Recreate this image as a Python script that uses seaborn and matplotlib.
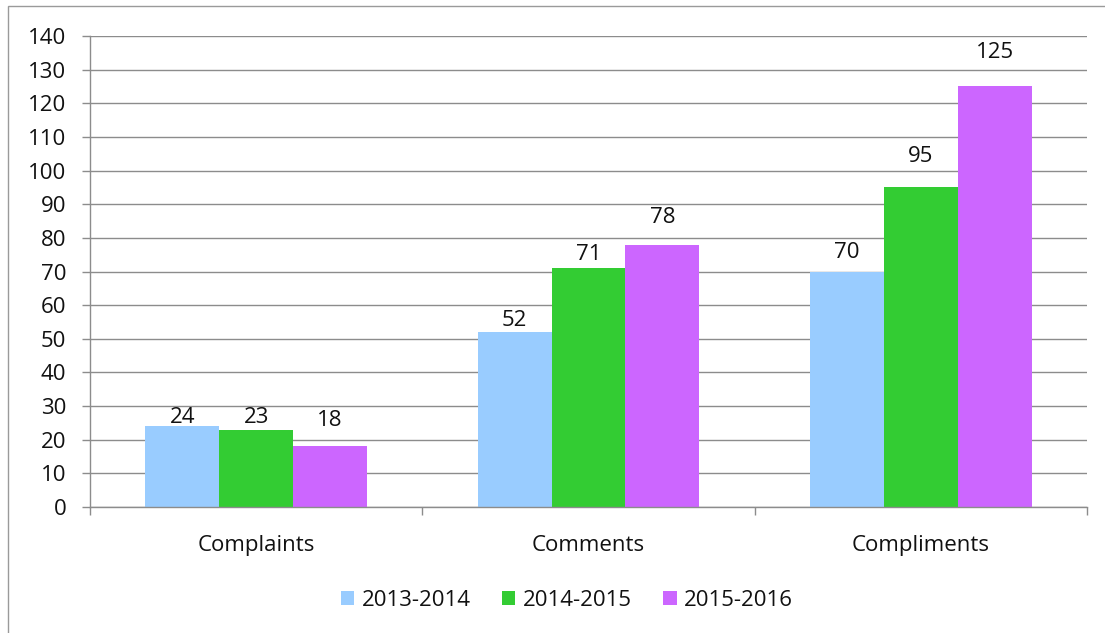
import matplotlib
matplotlib.use("Agg")
import matplotlib.pyplot as plt
import seaborn as sns
import pandas as pd
from matplotlib.patches import Rectangle

categories = ["Complaints", "Comments", "Compliments"]
years = ["2013-2014", "2014-2015", "2015-2016"]
v_2013 = [24, 52, 70]
v_2014 = [23, 71, 95]
v_2015 = [18, 78, 125]
colors = ["#99CCFF", "#33CC33", "#CC66FF"]

# label gaps above bars (pixels), per series, per category (style only)
label_gap_px = [[3, 6, 13], [7, 8, 25], [20, 22, 28]]

rows = []
for yr, vals in zip(years, [v_2013, v_2014, v_2015]):
    for c, v in zip(categories, vals):
        rows.append({"Category": c, "Year": yr, "Value": v})
df = pd.DataFrame(rows)

sns.set_theme(style="white")
plt.rcParams["font.family"] = ["Open Sans", "DejaVu Sans"]

FS = 16
TXT = "#111111"
GRID = "#8c8c8c"

W, H = 1105, 633
fig = plt.figure(figsize=(W / 100, H / 100), dpi=100)
ax = fig.add_axes([90 / W, 1 - 507 / H, (1087 - 90) / W, (507 - 36) / H])

sns.barplot(data=df, x="Category", y="Value", hue="Year", palette=colors,
            width=0.667, saturation=1, ax=ax, legend=True, errorbar=None,
            linewidth=0, edgecolor="none")

for ci, cont in enumerate(ax.containers):
    for pj, patch in enumerate(cont.patches):
        h = patch.get_height()
        ax.annotate(f"{h:.0f}", (patch.get_x() + patch.get_width() / 2, h),
                    xytext=(0, label_gap_px[ci][pj] * 0.72), textcoords="offset points",
                    ha="center", va="baseline", fontsize=FS, color=TXT)

ax.set_xlim(-0.5, 2.5)
ax.set_ylim(0, 140)
ax.set_yticks(range(0, 141, 10))
ax.yaxis.grid(True, color=GRID, linewidth=1)
ax.set_axisbelow(True)
ax.set_xlabel("")
ax.set_ylabel("")
for s in ["top", "right"]:
    ax.spines[s].set_visible(False)
for s in ["left", "bottom"]:
    ax.spines[s].set_color(GRID)
    ax.spines[s].set_linewidth(1)

ax.tick_params(axis="y", which="both", left=True, length=6, width=1, color=GRID,
               labelsize=FS, pad=11, labelcolor=TXT)
ax.tick_params(axis="x", which="major", bottom=False, length=0, labelsize=FS, pad=20,
               labelcolor=TXT)
ax.set_xticks([-0.5, 0.5, 1.5, 2.5], minor=True)
ax.tick_params(axis="x", which="minor", bottom=True, length=6, width=1, color=GRID)

handles, labels = ax.get_legend_handles_labels()
ax.legend_.remove()
fig.legend(handles, labels, loc="center", bbox_to_anchor=(567 / W, 1 - 600 / H),
           ncol=3, frameon=False, fontsize=FS, handlelength=0.6, handleheight=0.6,
           handletextpad=0.35, columnspacing=1.4, labelcolor=TXT)

fig.patches.append(Rectangle((8 / W, -0.1), 1.2, 1 - 6 / H + 0.1, transform=fig.transFigure,
                             fill=False, edgecolor="#9a9a9a", linewidth=1))

fig.savefig("out.png", dpi=100, facecolor="white")
